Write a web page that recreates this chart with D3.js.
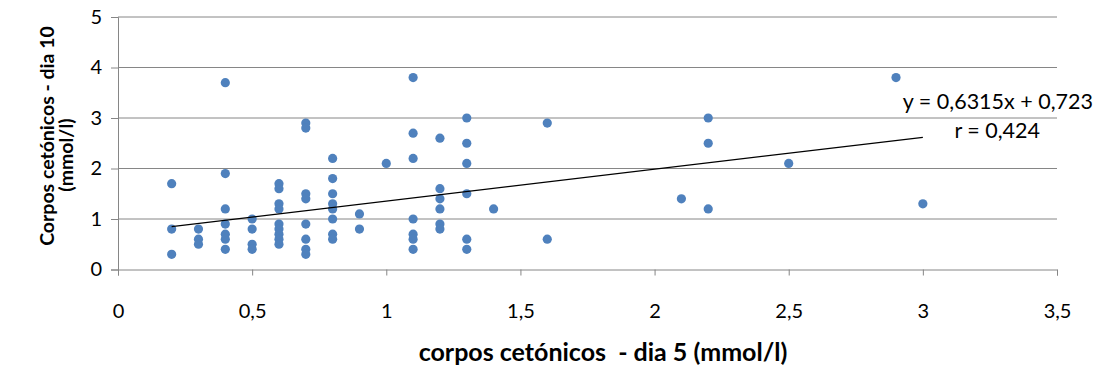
<!DOCTYPE html>
<html>
<head>
<meta charset="utf-8">
<script src="https://cdn.jsdelivr.net/npm/d3@7"></script>
<style>
  body { margin: 0; background: #fff; }
  text { font-family: Lato, "Open Sans", sans-serif; fill: #000; }
</style>
</head>
<body>
<div id="chart"></div>
<script>
// day 5 values (x) and day 10 values (y), one pair per patient
var dia5 = [
  0.2, 0.2, 0.2,
  0.3, 0.3, 0.3,
  0.4, 0.4, 0.4, 0.4, 0.4, 0.4, 0.4,
  0.5, 0.5, 0.5, 0.5,
  0.6, 0.6, 0.6, 0.6, 0.6, 0.6, 0.6, 0.6, 0.6,
  0.7, 0.7, 0.7, 0.7, 0.7, 0.7, 0.7, 0.7,
  0.8, 0.8, 0.8, 0.8, 0.8, 0.8, 0.8, 0.8,
  0.9, 0.9,
  1.0,
  1.1, 1.1, 1.1, 1.1, 1.1, 1.1, 1.1,
  1.2, 1.2, 1.2, 1.2, 1.2, 1.2,
  1.3, 1.3, 1.3, 1.3, 1.3, 1.3,
  1.4,
  1.6, 1.6,
  2.1,
  2.2, 2.2, 2.2,
  2.5,
  2.9,
  3.0
];
var dia10 = [
  1.7, 0.8, 0.3,
  0.8, 0.6, 0.5,
  3.7, 1.9, 1.2, 0.9, 0.7, 0.6, 0.4,
  1.0, 0.8, 0.5, 0.4,
  1.7, 1.6, 1.3, 1.2, 0.9, 0.8, 0.7, 0.6, 0.5,
  2.9, 2.8, 1.5, 1.4, 0.9, 0.6, 0.4, 0.3,
  2.2, 1.8, 1.5, 1.3, 1.2, 1.0, 0.7, 0.6,
  1.1, 0.8,
  2.1,
  3.8, 2.7, 2.2, 1.0, 0.7, 0.6, 0.4,
  2.6, 1.6, 1.4, 1.2, 0.9, 0.8,
  3.0, 2.5, 2.1, 1.5, 0.6, 0.4,
  1.2,
  2.9, 0.6,
  1.4,
  3.0, 2.5, 1.2,
  2.1,
  3.8,
  1.3
];

// linear trend from the chart's label
var slope = 0.6315, intercept = 0.723;
var trendX = [0.2, 3.0];
var xTicks = [0, 0.5, 1, 1.5, 2, 2.5, 3, 3.5];
var yTicks = [0, 1, 2, 3, 4, 5];

var svgWidth = 1095, svgHeight = 369;
var margin = { top: 17, right: 38, bottom: 99.5, left: 118 },
    width = svgWidth - margin.left - margin.right,
    height = svgHeight - margin.top - margin.bottom;

var svg = d3.select("#chart").append("svg")
    .attr("width", svgWidth)
    .attr("height", svgHeight);

var g = svg.append("g")
    .attr("transform", "translate(" + margin.left + "," + margin.top + ")");

var x = d3.scaleLinear().domain([0, 3.5]).range([0, width]);
var y = d3.scaleLinear().domain([0, 5]).range([height, 0]);

var fmt = function (d) { return String(d).replace(".", ","); };

// horizontal gridlines
g.selectAll(".grid")
    .data(yTicks.slice(1))
    .enter()
    .append("line")
    .attr("class", "grid")
    .attr("x1", 0)
    .attr("x2", width)
    .attr("y1", function (d) { return y(d); })
    .attr("y2", function (d) { return y(d); })
    .attr("stroke", "#868686")
    .attr("stroke-width", 1);

// axes
var xAxis = g.append("g")
    .attr("transform", "translate(0," + height + ")")
    .call(d3.axisBottom(x).tickValues(xTicks).tickFormat(fmt).tickSize(6).tickPadding(35));

var yAxis = g.append("g")
    .call(d3.axisLeft(y).tickValues(yTicks).tickFormat(fmt).tickSize(7).tickPadding(9));

[xAxis, yAxis].forEach(function (a) {
    a.select(".domain").attr("stroke", "#868686");
    a.selectAll(".tick line").attr("stroke", "#868686");
    a.selectAll(".tick text")
        .style("font-size", "20px")
        .style("font-family", "Lato, 'Open Sans', sans-serif")
        .attr("fill", "#000");
});
xAxis.selectAll(".tick text").attr("dy", "0.35em");

// points
g.selectAll(".dot")
    .data(dia5.map(function (d, i) { return [d, dia10[i]]; }))
    .enter()
    .append("circle")
    .attr("class", "dot")
    .attr("cx", function (d) { return x(d[0]); })
    .attr("cy", function (d) { return y(d[1]); })
    .attr("r", 4.6)
    .attr("fill", "#4F81BD");

// trend line
g.append("line")
    .attr("x1", x(trendX[0]))
    .attr("y1", y(slope * trendX[0] + intercept))
    .attr("x2", x(trendX[1]))
    .attr("y2", y(slope * trendX[1] + intercept))
    .attr("stroke", "#000")
    .attr("stroke-width", 1.3);

// equation labels
svg.append("text")
    .attr("x", 1093)
    .attr("y", 109)
    .attr("text-anchor", "end")
    .style("font-size", "21.5px")
    .text("y = 0,6315x + 0,723");

svg.append("text")
    .attr("x", 1040)
    .attr("y", 138)
    .attr("text-anchor", "end")
    .style("font-size", "21.5px")
    .text("r = 0,424");

// axis titles
svg.append("text")
    .attr("x", 603)
    .attr("y", 361)
    .attr("text-anchor", "middle")
    .attr("xml:space", "preserve")
    .style("white-space", "pre")
    .style("font-size", "25px")
    .style("font-weight", "bold")
    .text("corpos cetónicos  - dia 5 (mmol/l)");

svg.append("text")
    .attr("transform", "translate(54,136) rotate(-90)")
    .attr("text-anchor", "middle")
    .style("font-size", "19.5px")
    .style("font-weight", "bold")
    .text("Corpos cetónicos - dia 10");

svg.append("text")
    .attr("transform", "translate(73,155) rotate(-90)")
    .attr("text-anchor", "middle")
    .style("font-size", "19.5px")
    .style("font-weight", "bold")
    .text("(mmol/l)");
</script>
</body>
</html>
